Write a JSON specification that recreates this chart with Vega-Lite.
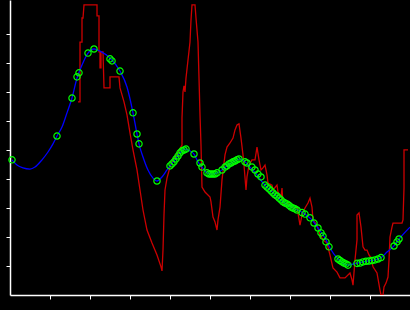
{
  "$schema": "https://vega.github.io/schema/vega-lite/v6.json",
  "width": 400,
  "height": 295,
  "autosize": {"type": "none"},
  "padding": {"left": 10, "top": 0, "right": 0, "bottom": 15},
  "background": "#000000",
  "config": {
    "view": {"stroke": null},
    "axis": {
      "labels": false,
      "title": null,
      "grid": false,
      "domainColor": "#ffffff",
      "domainWidth": 1.5,
      "tickColor": "#ffffff",
      "tickSize": 4,
      "tickWidth": 1
    }
  },
  "datasets": {
    "red": [
      {"i": 1, "x": 17, "y": 66.6}, {"i": 2, "x": 17.5, "y": 66.6}, {"i": 3, "x": 17.5, "y": 87.2}, {"i": 4, "x": 18, "y": 87.2},
      {"i": 5, "x": 18, "y": 95.5}, {"i": 6, "x": 18.25, "y": 95.5}, {"i": 7, "x": 18.5, "y": 100}, {"i": 8, "x": 21.75, "y": 100},
      {"i": 9, "x": 21.75, "y": 96.2}, {"i": 10, "x": 22.25, "y": 96.2}, {"i": 11, "x": 22.25, "y": 83.8}, {"i": 12, "x": 22.5, "y": 83.8},
      {"i": 13, "x": 22.5, "y": 78.3}, {"i": 14, "x": 22.75, "y": 78.3}, {"i": 15, "x": 22.75, "y": 83.8}, {"i": 16, "x": 23.25, "y": 83.8},
      {"i": 17, "x": 23.5, "y": 71.4}, {"i": 18, "x": 25, "y": 71.4}, {"i": 19, "x": 25, "y": 75.2}, {"i": 20, "x": 27.25, "y": 75.2},
      {"i": 21, "x": 27.5, "y": 71.4}, {"i": 22, "x": 28, "y": 69.0}, {"i": 23, "x": 28.5, "y": 66.6}, {"i": 24, "x": 29.25, "y": 62.1},
      {"i": 25, "x": 30, "y": 55.9}, {"i": 26, "x": 30.75, "y": 50.0}, {"i": 27, "x": 31.75, "y": 43.1}, {"i": 28, "x": 32.5, "y": 36.2},
      {"i": 29, "x": 33.25, "y": 29.3}, {"i": 30, "x": 34.25, "y": 22.4}, {"i": 31, "x": 35.5, "y": 17.9}, {"i": 32, "x": 36.75, "y": 13.8},
      {"i": 33, "x": 37.75, "y": 9.7}, {"i": 34, "x": 38, "y": 8.3}, {"i": 35, "x": 38.25, "y": 15.5}, {"i": 36, "x": 38.5, "y": 27.6},
      {"i": 37, "x": 38.75, "y": 36.2}, {"i": 38, "x": 39.25, "y": 40.3}, {"i": 39, "x": 40, "y": 44.1}, {"i": 40, "x": 40.75, "y": 46.6},
      {"i": 41, "x": 42, "y": 49.3}, {"i": 42, "x": 43, "y": 51.7}, {"i": 43, "x": 43, "y": 61.0}, {"i": 44, "x": 43.25, "y": 70.0},
      {"i": 45, "x": 43.5, "y": 72.1}, {"i": 46, "x": 43.75, "y": 70.0}, {"i": 47, "x": 44, "y": 74.8}, {"i": 48, "x": 44.5, "y": 81.0},
      {"i": 49, "x": 45, "y": 87.2}, {"i": 50, "x": 45.25, "y": 94.8}, {"i": 51, "x": 45.5, "y": 100}, {"i": 52, "x": 46.25, "y": 100},
      {"i": 53, "x": 46.5, "y": 95.5}, {"i": 54, "x": 47, "y": 87.2}, {"i": 55, "x": 47.25, "y": 74.8}, {"i": 56, "x": 47.5, "y": 62.1},
      {"i": 57, "x": 47.75, "y": 51.7}, {"i": 58, "x": 48, "y": 37.2}, {"i": 59, "x": 48.75, "y": 35.5}, {"i": 60, "x": 50, "y": 33.8},
      {"i": 61, "x": 50.25, "y": 32.1}, {"i": 62, "x": 50.75, "y": 26.9}, {"i": 63, "x": 51.25, "y": 25.2}, {"i": 64, "x": 51.75, "y": 22.4},
      {"i": 65, "x": 52, "y": 25.9}, {"i": 66, "x": 52.5, "y": 30.3}, {"i": 67, "x": 53, "y": 39.7}, {"i": 68, "x": 53.75, "y": 48.3},
      {"i": 69, "x": 54.25, "y": 51.0}, {"i": 70, "x": 55, "y": 52.4}, {"i": 71, "x": 55.75, "y": 54.1}, {"i": 72, "x": 56.25, "y": 56.9},
      {"i": 73, "x": 56.75, "y": 58.6}, {"i": 74, "x": 57.25, "y": 59.0}, {"i": 75, "x": 57.75, "y": 54.1}, {"i": 76, "x": 58.25, "y": 48.3},
      {"i": 77, "x": 58.5, "y": 44.8}, {"i": 78, "x": 59, "y": 36.2}, {"i": 79, "x": 59.25, "y": 40.7}, {"i": 80, "x": 59.75, "y": 44.8},
      {"i": 81, "x": 60.5, "y": 46.6}, {"i": 82, "x": 61.25, "y": 46.6}, {"i": 83, "x": 61.75, "y": 51.0}, {"i": 84, "x": 62.25, "y": 46.6},
      {"i": 85, "x": 62.75, "y": 43.1}, {"i": 86, "x": 63.25, "y": 43.8}, {"i": 87, "x": 63.75, "y": 44.8}, {"i": 88, "x": 64.25, "y": 41.4},
      {"i": 89, "x": 64.5, "y": 38.6}, {"i": 90, "x": 65.5, "y": 37.9}, {"i": 91, "x": 65.75, "y": 36.2}, {"i": 92, "x": 66.75, "y": 37.9},
      {"i": 93, "x": 67, "y": 35.5}, {"i": 94, "x": 67.75, "y": 33.8}, {"i": 95, "x": 68, "y": 36.9}, {"i": 96, "x": 68.25, "y": 31.0},
      {"i": 97, "x": 69.25, "y": 31.7}, {"i": 98, "x": 70, "y": 31.0}, {"i": 99, "x": 70.75, "y": 30.0}, {"i": 100, "x": 71.75, "y": 30.3},
      {"i": 101, "x": 72.5, "y": 24.1}, {"i": 102, "x": 73, "y": 27.6}, {"i": 103, "x": 73.75, "y": 30.0}, {"i": 104, "x": 74.5, "y": 31.7},
      {"i": 105, "x": 75, "y": 33.4}, {"i": 106, "x": 75.5, "y": 30.3}, {"i": 107, "x": 75.75, "y": 25.9}, {"i": 108, "x": 76.75, "y": 24.1},
      {"i": 109, "x": 77.5, "y": 20.7}, {"i": 110, "x": 78.25, "y": 19.0}, {"i": 111, "x": 79.25, "y": 17.9}, {"i": 112, "x": 80, "y": 13.8},
      {"i": 113, "x": 80.75, "y": 9.3}, {"i": 114, "x": 81.75, "y": 7.9}, {"i": 115, "x": 82.5, "y": 5.9}, {"i": 116, "x": 83.75, "y": 5.9},
      {"i": 117, "x": 85, "y": 7.6}, {"i": 118, "x": 85.5, "y": 5.2}, {"i": 119, "x": 85.75, "y": 3.4}, {"i": 120, "x": 86.25, "y": 12.1},
      {"i": 121, "x": 86.75, "y": 19.0}, {"i": 122, "x": 86.75, "y": 27.6}, {"i": 123, "x": 87.25, "y": 28.3}, {"i": 124, "x": 87.75, "y": 23.4},
      {"i": 125, "x": 88, "y": 20.0}, {"i": 126, "x": 88.25, "y": 16.6}, {"i": 127, "x": 88.75, "y": 15.5}, {"i": 128, "x": 89.25, "y": 15.5},
      {"i": 129, "x": 89.75, "y": 13.8}, {"i": 130, "x": 90.25, "y": 12.8}, {"i": 131, "x": 90.75, "y": 9.7}, {"i": 132, "x": 91.75, "y": 7.6},
      {"i": 133, "x": 92.5, "y": 1.7}, {"i": 134, "x": 92.75, "y": 0}, {"i": 135, "x": 93.25, "y": 0}, {"i": 136, "x": 93.5, "y": 2.8},
      {"i": 137, "x": 94, "y": 4.1}, {"i": 138, "x": 94.5, "y": 6.2}, {"i": 139, "x": 94.75, "y": 12.1}, {"i": 140, "x": 95, "y": 20.0},
      {"i": 141, "x": 95.5, "y": 23.4}, {"i": 142, "x": 95.75, "y": 24.8}, {"i": 143, "x": 98, "y": 24.8}, {"i": 144, "x": 98.25, "y": 25.9},
      {"i": 145, "x": 98.5, "y": 36.9}, {"i": 146, "x": 98.5, "y": 50.0}, {"i": 147, "x": 99.5, "y": 50.0}
    ],
    "blue": [
      {"x": 0.5, "y": 46.6}, {"x": 1.75, "y": 44.8}, {"x": 3.25, "y": 43.8}, {"x": 5, "y": 43.4}, {"x": 6.25, "y": 44.1},
      {"x": 8, "y": 46.6}, {"x": 9.5, "y": 49.3}, {"x": 10.75, "y": 52.1}, {"x": 11.75, "y": 54.8}, {"x": 13, "y": 57.9},
      {"x": 14.25, "y": 62.8}, {"x": 15.5, "y": 67.9}, {"x": 16.75, "y": 74.8}, {"x": 18, "y": 79.3}, {"x": 19.5, "y": 83.4},
      {"x": 21, "y": 84.8}, {"x": 22.5, "y": 84.1}, {"x": 25, "y": 81.7}, {"x": 27.5, "y": 77.2}, {"x": 29.25, "y": 71.7},
      {"x": 30.75, "y": 62.8}, {"x": 31.75, "y": 55.5}, {"x": 32.25, "y": 52.1}, {"x": 33.25, "y": 47.6}, {"x": 34.5, "y": 43.1},
      {"x": 35.75, "y": 40.3}, {"x": 36.75, "y": 39.3}, {"x": 38, "y": 40.7}, {"x": 39.25, "y": 43.1}, {"x": 40, "y": 44.5},
      {"x": 41.25, "y": 46.6}, {"x": 42.5, "y": 49.0}, {"x": 43.75, "y": 50.3}, {"x": 45, "y": 49.7}, {"x": 46, "y": 48.6},
      {"x": 47, "y": 45.9}, {"x": 48, "y": 44.1}, {"x": 49.25, "y": 42.1}, {"x": 50.5, "y": 41.7}, {"x": 51.75, "y": 42.1},
      {"x": 53, "y": 43.1}, {"x": 54.5, "y": 44.8}, {"x": 56.25, "y": 46.2}, {"x": 57.5, "y": 46.9}, {"x": 58.75, "y": 45.9},
      {"x": 60, "y": 44.1}, {"x": 61.75, "y": 41.4}, {"x": 63.25, "y": 38.6}, {"x": 65.75, "y": 35.2}, {"x": 68.25, "y": 32.1},
      {"x": 70.75, "y": 30.0}, {"x": 73.25, "y": 28.3}, {"x": 75.5, "y": 25.9}, {"x": 77, "y": 23.1}, {"x": 78.75, "y": 19.7},
      {"x": 80, "y": 16.2}, {"x": 81.75, "y": 12.8}, {"x": 83.25, "y": 11.0}, {"x": 84.5, "y": 10.3}, {"x": 86.75, "y": 11.0},
      {"x": 89.25, "y": 11.7}, {"x": 91.25, "y": 12.1}, {"x": 93, "y": 13.1}, {"x": 94.25, "y": 14.8}, {"x": 95.75, "y": 16.6},
      {"x": 97.5, "y": 19.7}, {"x": 100, "y": 23.4}
    ],
    "pts": [
      {"x": 0.5, "y": 46.6}, {"x": 11.75, "y": 54.8}, {"x": 15.5, "y": 67.9}, {"x": 16.75, "y": 75.2}, {"x": 17.25, "y": 76.6},
      {"x": 19.5, "y": 83.4}, {"x": 21, "y": 84.8}, {"x": 25, "y": 81.4}, {"x": 25.5, "y": 80.7}, {"x": 27.5, "y": 77.2},
      {"x": 30.75, "y": 62.8}, {"x": 31.75, "y": 55.5}, {"x": 32.25, "y": 52.1}, {"x": 36.75, "y": 39.3},
      {"x": 40, "y": 44.5}, {"x": 40.5, "y": 45.2}, {"x": 41, "y": 45.9}, {"x": 41.5, "y": 46.9}, {"x": 42, "y": 47.9},
      {"x": 42.5, "y": 49.0}, {"x": 43, "y": 49.7}, {"x": 43.5, "y": 50.0}, {"x": 44, "y": 50.3}, {"x": 46, "y": 48.6},
      {"x": 47.5, "y": 45.5}, {"x": 48, "y": 44.1},
      {"x": 49.25, "y": 42.1}, {"x": 49.75, "y": 41.7}, {"x": 50.25, "y": 41.7}, {"x": 50.75, "y": 41.7}, {"x": 51.25, "y": 41.7},
      {"x": 51.75, "y": 42.1}, {"x": 53, "y": 43.1},
      {"x": 53.75, "y": 44.1}, {"x": 54.25, "y": 44.5}, {"x": 54.75, "y": 45.2}, {"x": 55.25, "y": 45.5}, {"x": 55.75, "y": 45.9},
      {"x": 56.25, "y": 46.2}, {"x": 56.75, "y": 46.6}, {"x": 57.25, "y": 46.9}, {"x": 58.75, "y": 45.9}, {"x": 59.25, "y": 45.5},
      {"x": 60.5, "y": 44.1}, {"x": 61.25, "y": 43.1}, {"x": 62, "y": 41.7}, {"x": 62.75, "y": 40.7},
      {"x": 63.75, "y": 37.9}, {"x": 64.25, "y": 37.2}, {"x": 64.75, "y": 36.6}, {"x": 65.25, "y": 35.9}, {"x": 65.75, "y": 35.2},
      {"x": 66.25, "y": 34.5}, {"x": 66.75, "y": 34.1}, {"x": 67.25, "y": 33.4}, {"x": 67.75, "y": 32.8}, {"x": 68.25, "y": 32.1},
      {"x": 68.75, "y": 31.7}, {"x": 69.25, "y": 31.4}, {"x": 69.75, "y": 30.9}, {"x": 70.25, "y": 30.3}, {"x": 70.75, "y": 30.0},
      {"x": 71.25, "y": 29.7}, {"x": 71.75, "y": 29.3}, {"x": 73, "y": 28.4}, {"x": 73.75, "y": 27.9}, {"x": 75, "y": 26.6},
      {"x": 76, "y": 24.8}, {"x": 77, "y": 23.1}, {"x": 77.75, "y": 21.4}, {"x": 78.25, "y": 20.3}, {"x": 79, "y": 18.3},
      {"x": 79.75, "y": 16.6},
      {"x": 82, "y": 12.4}, {"x": 82.5, "y": 11.9}, {"x": 83, "y": 11.4}, {"x": 83.5, "y": 11.0}, {"x": 84, "y": 10.7},
      {"x": 84.5, "y": 10.3}, {"x": 86.75, "y": 10.9}, {"x": 87.5, "y": 11.0}, {"x": 88.25, "y": 11.4}, {"x": 89, "y": 11.6},
      {"x": 89.75, "y": 11.7}, {"x": 90.5, "y": 11.9}, {"x": 91.25, "y": 12.1}, {"x": 92, "y": 12.4}, {"x": 92.75, "y": 12.9},
      {"x": 96, "y": 16.9}, {"x": 96.75, "y": 18.3}, {"x": 97.25, "y": 19.3}
    ]
  },
  "encoding": {
    "x": {
      "field": "x", "type": "quantitative",
      "scale": {"domain": [0, 100], "nice": false, "zero": false},
      "axis": {"values": [10, 20, 30, 40, 50, 60, 70, 80, 90]}
    },
    "y": {
      "field": "y", "type": "quantitative",
      "scale": {"domain": [0, 101.7], "nice": false, "zero": false},
      "axis": {"values": [10, 20, 30, 40, 50, 60, 70, 80, 90]}
    }
  },
  "layer": [
    {
      "data": {"name": "red"},
      "mark": {"type": "line", "color": "#cc0000", "strokeWidth": 1.3, "clip": true},
      "encoding": {"order": {"field": "i", "type": "quantitative"}}
    },
    {
      "data": {"name": "blue"},
      "mark": {"type": "line", "color": "#0000ff", "strokeWidth": 1.3, "interpolate": "monotone", "clip": true},
      "encoding": {}
    },
    {
      "data": {"name": "pts"},
      "mark": {"type": "point", "shape": "circle", "filled": false, "stroke": "#00ff00", "strokeWidth": 1.2, "size": 40, "opacity": 1},
      "encoding": {}
    }
  ]
}
